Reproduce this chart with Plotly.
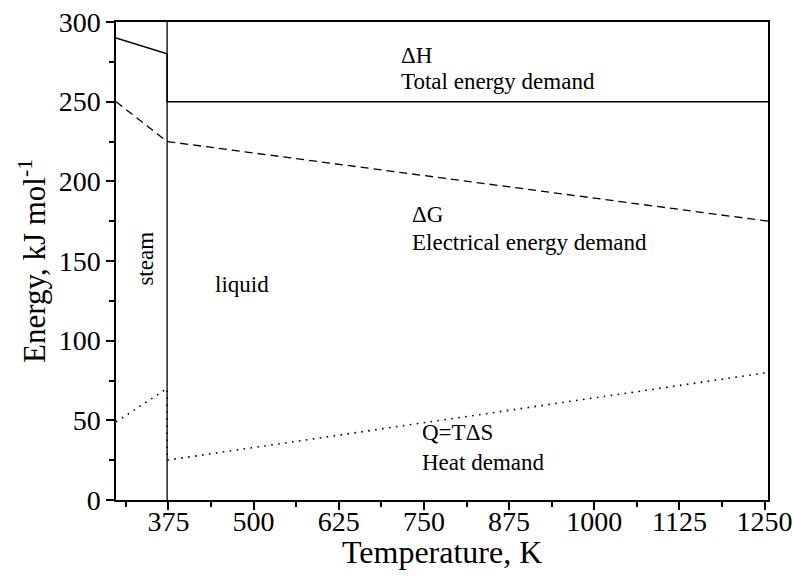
import plotly.graph_objects as go

# Temperature limits and phase boundary (K)
T_MIN, T_BOIL, T_MAX = 298, 373, 1255
T_steam = [T_MIN, T_BOIL]
T_liquid = [T_BOIL, T_MAX]

# Energy demands (kJ/mol) on each side of the boundary
dH_steam, dH_liquid = [290, 280], [250, 250]
dG_steam, dG_liquid = [250, 225], [225, 175]
Q_steam, Q_liquid = [49, 70], [25, 80]

x_ticks = [375, 500, 625, 750, 875, 1000, 1125, 1250]
y_ticks = [0, 50, 100, 150, 200, 250, 300]

FONT = "Liberation Serif, Times New Roman, serif"
BLACK = "black"

fig = go.Figure()

# phase boundary
fig.add_trace(go.Scatter(x=[T_BOIL, T_BOIL], y=[y_ticks[0], y_ticks[-1]], mode="lines",
                         line=dict(color=BLACK, width=1.3), hoverinfo="skip"))
# total energy demand
fig.add_trace(go.Scatter(x=T_steam + T_liquid, y=dH_steam + dH_liquid, mode="lines",
                         line=dict(color=BLACK, width=1.5), name="ΔH"))
# electrical energy demand
fig.add_trace(go.Scatter(x=T_steam + T_liquid, y=dG_steam + dG_liquid, mode="lines",
                         line=dict(color=BLACK, width=1.3, dash="8px,5px"), name="ΔG"))
# heat demand
fig.add_trace(go.Scatter(x=T_steam + T_liquid, y=Q_steam + Q_liquid, mode="lines",
                         line=dict(color=BLACK, width=1.6, dash="1.6px,5.4px"), name="Q"))

ann_font = dict(family=FONT, size=23, color=BLACK)
labels = [
    (713, 279, "ΔH"), (713, 262.5, "Total energy demand"),
    (729, 179, "ΔG"), (729, 161.5, "Electrical energy demand"),
    (743.5, 42.5, "Q=TΔS"), (743.5, 23.5, "Heat demand"),
    (441, 135, "liquid"),
]
for x, y, t in labels:
    fig.add_annotation(x=x, y=y, text=t, showarrow=False, xanchor="left",
                       yanchor="middle", font=ann_font)
fig.add_annotation(x=342, y=151.5, text="steam", showarrow=False, textangle=-90,
                   xanchor="center", yanchor="middle", font=ann_font)

# x-axis title, placed directly under the tick labels
fig.add_annotation(x=0.5, y=0, xref="paper", yref="paper", text="Temperature, K",
                   showarrow=False, xanchor="center", yanchor="top", yshift=-32,
                   font=dict(family=FONT, size=32, color=BLACK))

axis_common = dict(showline=True, linecolor=BLACK, linewidth=1.5, mirror=True,
                   ticks="outside", ticklen=8, tickwidth=1.5, tickcolor=BLACK,
                   showgrid=False, zeroline=False, automargin=False,
                   tickfont=dict(family=FONT, size=28, color=BLACK))

fig.update_xaxes(range=[T_MIN, T_MAX], tickvals=x_ticks, ticklabelstandoff=-12,
                 minor=dict(ticks="outside", ticklen=5, tickwidth=1.5, tickcolor=BLACK,
                            dtick=62.5, tick0=375),
                 **axis_common)
fig.update_yaxes(range=[0, 300], tickvals=y_ticks,
                 minor=dict(ticks="outside", ticklen=5, tickwidth=1.5, tickcolor=BLACK,
                            dtick=25, tick0=0),
                 title=dict(text="Energy, kJ mol<sup>-1</sup>",
                            font=dict(family=FONT, size=31, color=BLACK), standoff=4),
                 **axis_common)

fig.update_layout(width=793, height=579, showlegend=False,
                  font=dict(family=FONT, color=BLACK),
                  margin=dict(l=116, r=25, t=22, b=79),
                  plot_bgcolor="white", paper_bgcolor="white")

fig.write_html("out.html")
